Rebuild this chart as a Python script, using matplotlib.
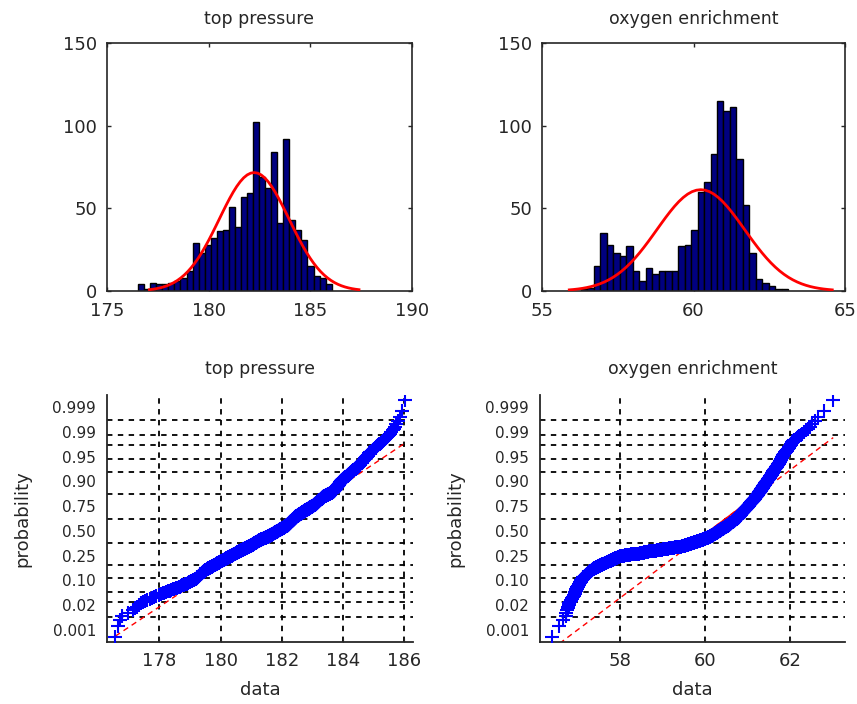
import matplotlib.pyplot as plt
import numpy as np
from statistics import NormalDist
from matplotlib.ticker import MultipleLocator, FixedLocator

# histogram counts (32 bins between data min and max)
tp_min, tp_max = 176.53, 186.05
tp_counts = [4, 1, 5, 4, 4, 5, 6, 8, 12, 29, 23, 28, 32, 36, 37, 51,
             39, 57, 59, 102, 69, 62, 84, 41, 92, 43, 37, 31, 15, 9, 8, 4]

oe_min, oe_max = 56.28, 63.13
oe_counts = [1, 2, 15, 35, 28, 23, 21, 27, 12, 6, 14, 10, 12, 12, 12, 27,
             28, 37, 60, 66, 83, 115, 109, 111, 80, 52, 23, 7, 5, 3, 1, 1]

titles = ["top pressure", "oxygen enrichment"]
prob_grid = [0.001, 0.003, 0.01, 0.02, 0.05, 0.10, 0.25, 0.50,
             0.75, 0.90, 0.95, 0.98, 0.99, 0.997, 0.999]
prob_labels = ["0.001", "0.02", "0.10", "0.25", "0.50",
               "0.75", "0.90", "0.95", "0.99", "0.999"]

nd = NormalDist()
TXT = "#262626"


def sample_from_counts(lo, hi, counts):
    edges = np.linspace(lo, hi, len(counts) + 1)
    parts = []
    for a, b, c in zip(edges[:-1], edges[1:], counts):
        if c > 0:
            parts.append(a + (np.arange(c) + 0.5) / c * (b - a))
    return np.concatenate(parts)


def histfit(ax, lo, hi, counts, title, xlim, xstep):
    counts = np.array(counts)
    edges = np.linspace(lo, hi, len(counts) + 1)
    w = edges[1] - edges[0]
    centers = edges[:-1] + w / 2
    ax.bar(centers, counts, width=w, color="#000080", edgecolor="black",
           linewidth=1.0, zorder=2)
    data = sample_from_counts(lo, hi, counts)
    mu, sd = data.mean(), data.std(ddof=1)
    x = np.arange(-3 * sd + mu, 3 * sd + mu + 1e-9, 0.1 * sd)
    y = len(data) * w * np.exp(-0.5 * ((x - mu) / sd) ** 2) / (sd * np.sqrt(2 * np.pi))
    ax.plot(x, y, color="red", linewidth=2, zorder=3)
    ax.set_xlim(*xlim)
    ax.set_ylim(0, 150)
    ax.xaxis.set_major_locator(MultipleLocator(xstep))
    ax.yaxis.set_major_locator(MultipleLocator(50))
    ax.tick_params(direction="in", top=True, right=True, length=3,
                   labelsize=13, colors=TXT, width=1)
    ax.tick_params(axis="x", pad=8)
    ax.tick_params(axis="y", pad=7)
    for s in ax.spines.values():
        s.set_color(TXT)
        s.set_linewidth(1.2)
    ax.set_title(title, fontsize=12.5, color=TXT, pad=14)


def normplot(ax, lo, hi, counts, title, xstep):
    data = np.sort(sample_from_counts(lo, hi, counts))
    n = len(data)
    zq = np.array([nd.inv_cdf((i - 0.5) / n) for i in range(1, n + 1)])
    q1, q3 = np.percentile(data, [25, 75])
    z1, z3 = nd.inv_cdf(0.25), nd.inv_cdf(0.75)
    slope = (z3 - z1) / (q3 - q1)
    xs = np.array([data[0], data[-1]])
    ax.plot(xs, z1 + slope * (xs - q1), color="red", linewidth=1.0,
            linestyle=(0, (4, 3)), zorder=2)
    ax.plot([q1, q3], [z1, z3], color="red", linewidth=1.0, zorder=2)
    ax.plot(data, zq, "+", color="blue", markersize=10, markeredgewidth=1.5, zorder=3)

    r = hi - lo
    ax.set_xlim(lo - 0.025 * r, hi + 0.025 * r)
    zlim = -nd.inv_cdf(0.0003)
    ax.set_ylim(-zlim, zlim)
    ax.xaxis.set_major_locator(MultipleLocator(xstep))
    zg = [nd.inv_cdf(p) for p in prob_grid]
    ax.yaxis.set_minor_locator(FixedLocator(zg))
    ax.yaxis.set_major_locator(FixedLocator(
        np.linspace(zg[0], zg[-1], len(prob_labels))))
    ax.set_yticklabels(prob_labels)
    ax.tick_params(axis="y", which="major", length=0, labelsize=11,
                   colors=TXT, pad=8)
    ax.tick_params(axis="y", which="minor", direction="in", length=3, color=TXT)
    ax.tick_params(axis="x", direction="in", length=3, labelsize=13,
                   colors=TXT, pad=7)
    ax.grid(which="minor", axis="y", color="black", linestyle=(0, (3, 3)), linewidth=1.3)
    ax.grid(which="major", axis="x", color="black", linestyle=(0, (3, 3)), linewidth=1.3)
    ax.set_axisbelow(True)
    for side in ["top", "right"]:
        ax.spines[side].set_visible(False)
    for side in ["left", "bottom"]:
        ax.spines[side].set_color(TXT)
        ax.spines[side].set_linewidth(1.3)
    ax.set_title(title, fontsize=12.5, color=TXT, pad=15)
    ax.set_xlabel("data", fontsize=13, color=TXT, labelpad=8)
    ax.set_ylabel("probability", fontsize=13, color=TXT, labelpad=15)


fig = plt.figure(figsize=(8.57, 7.04), dpi=100)
W, H = 857, 704
ax1 = fig.add_axes([107 / W, 1 - 291 / H, 305 / W, 248 / H])
ax2 = fig.add_axes([542 / W, 1 - 291 / H, 303 / W, 248 / H])
ax3 = fig.add_axes([107 / W, 1 - 642 / H, 306 / W, 247 / H])
ax4 = fig.add_axes([540 / W, 1 - 642 / H, 305 / W, 247 / H])

histfit(ax1, tp_min, tp_max, tp_counts, titles[0], (175, 190), 5)
histfit(ax2, oe_min, oe_max, oe_counts, titles[1], (55, 65), 5)
normplot(ax3, tp_min, tp_max, tp_counts, titles[0], 2)
normplot(ax4, oe_min, oe_max, oe_counts, titles[1], 2)

fig.savefig("out.png", dpi=100)
